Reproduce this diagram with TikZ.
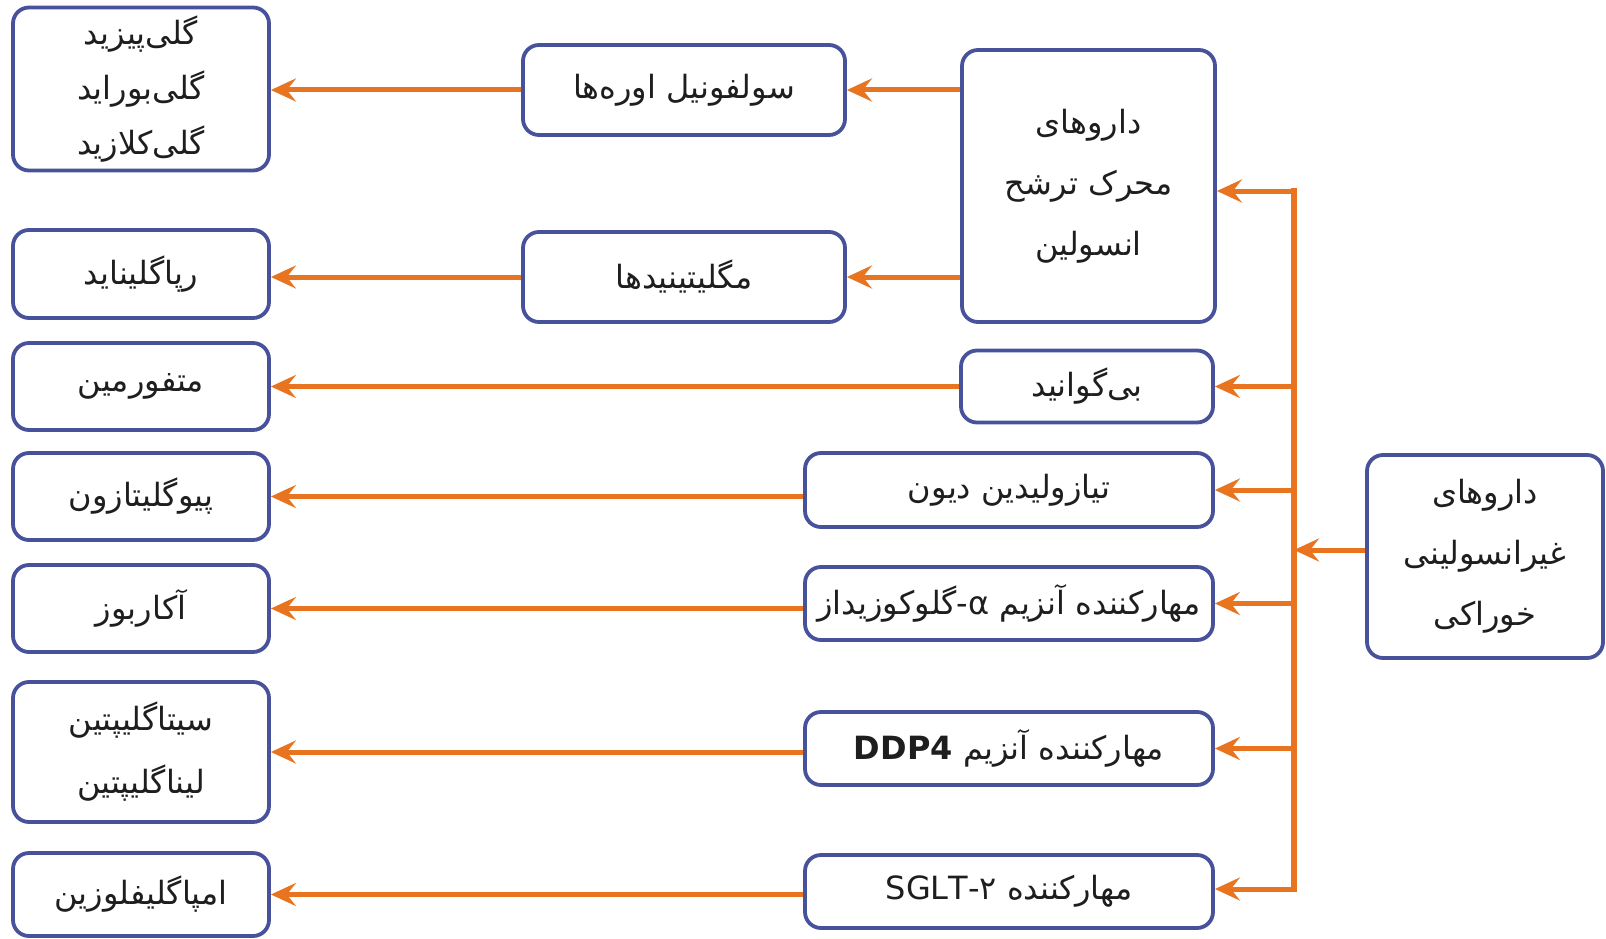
\documentclass[tikz,border=0pt]{standalone}
\usepackage{fontspec}
\setmainfont{DejaVu Sans}
\newfontfamily\arabicfont[Script=Arabic]{DejaVu Sans}
\TeXXeTstate=1
\usetikzlibrary{arrows.meta}
\definecolor{arrorange}{RGB}{232,116,32}
\definecolor{boxblue}{RGB}{72,82,155}
\definecolor{txt}{RGB}{30,30,30}
\newcommand{\fa}[1]{{\arabicfont\beginR #1\endR}}
\begin{document}
\begin{tikzpicture}[x=1pt,y=-1pt,
  box/.style={draw=boxblue, line width=3.8pt, rounded corners=16pt, fill=white,
    inner sep=0pt, align=center, text=txt, font=\fontsize{32}{55}\selectfont},
  arr/.style={draw=arrorange, line width=5pt,
    -{Stealth[length=25pt,width=23pt,inset=9pt]}},
  vline/.style={draw=arrorange, line width=6.5pt, line cap=rect},
]
\useasboundingbox (0,0) rectangle (1606,939);

% left column
\node[box, minimum width=256pt, minimum height=163pt] (L1) at (141,89)
  {\fa{گلی‌پیزید}\\\fa{گلی‌بوراید}\\\fa{گلی‌کلازید}};
\node[box, minimum width=256pt, minimum height=88pt] (L2) at (141,274) {\fa{رپاگلیناید}};
\node[box, minimum width=256pt, minimum height=87pt] (L3) at (141,386.5) {\fa{متفورمین}};
\node[box, minimum width=256pt, minimum height=87pt] (L4) at (141,496.5) {\fa{پیوگلیتازون}};
\node[box, minimum width=256pt, minimum height=87pt] (L5) at (141,608.5) {\fa{آکاربوز}};
\node[box, minimum width=256pt, minimum height=140pt, font=\fontsize{32}{63}\selectfont] (L6) at (141,752)
  {\fa{سیتاگلیپتین}\\\fa{لیناگلیپتین}};
\node[box, minimum width=256pt, minimum height=83pt] (L7) at (141,894.5) {\fa{امپاگلیفلوزین}};

% middle column
\node[box, minimum width=322pt, minimum height=90pt] (M1) at (684,90) {\fa{سولفونیل اوره‌ها}};
\node[box, minimum width=322pt, minimum height=90pt] (M2) at (684,277) {\fa{مگلیتینیدها}};

% right-middle column
\node[box, minimum width=253pt, minimum height=272pt, font=\fontsize{32}{61}\selectfont] (R1) at (1088.5,186)
  {\fa{داروهای}\\\fa{محرک ترشح}\\\fa{انسولین}};
\node[box, minimum width=252pt, minimum height=72pt] (R2) at (1087,386.5) {\fa{بی‌گوانید}};
\node[box, minimum width=408pt, minimum height=74pt] (R3) at (1009,490) {\fa{تیازولیدین دیون}};
\node[box, minimum width=408pt, minimum height=73pt] (R4) at (1009,603.5)
  {\fa{مهارکننده آنزیم \hbox{α}\hbox{-}\hbox{گلوکوزیداز}}};
\node[box, minimum width=408pt, minimum height=73pt] (R5) at (1009,748.5)
  {\fa{مهارکننده آنزیم \beginL\textbf{DDP4}\endL}};
\node[box, minimum width=408pt, minimum height=73pt] (R6) at (1009,891.5)
  {\fa{مهارکننده \beginL SGLT-۲\endL}};

% far right
\node[box, minimum width=236pt, minimum height=203pt, font=\fontsize{32}{61}\selectfont] (F) at (1485,556.5)
  {\fa{داروهای}\\\fa{غیرانسولینی}\\\fa{خوراکی}};

% trunk
\coordinate (vtop) at (1294,191);
\coordinate (vbot) at (1294,889);
\coordinate (vjoin) at (1294,550);
\draw[vline] (vtop) -- (vbot);
\draw[arr] (F.west |- vjoin) -- (vjoin);

\draw[arr] (vtop) -- (vtop -| R1.east);
\draw[arr] (R2.east -| vtop) -- (R2.east);
\draw[arr] (R3.east -| vtop) -- (R3.east);
\draw[arr] (R4.east -| vtop) -- (R4.east);
\draw[arr] (R5.east -| vtop) -- (R5.east);
\draw[arr] (vbot) -- (vbot -| R6.east);

% to the left
\draw[arr] (R1.west |- M1.east) -- (M1.east);
\draw[arr] (R1.west |- M2.east) -- (M2.east);
\draw[arr] (M1.west) -- (M1.west -| L1.east);
\draw[arr] (M2.west) -- (M2.west -| L2.east);
\draw[arr] (R2.west |- L3.east) -- (L3.east);
\draw[arr] (R3.west |- L4.east) -- (L4.east);
\draw[arr] (R4.west |- L5.east) -- (L5.east);
\draw[arr] (R5.west |- L6.east) -- (L6.east);
\draw[arr] (R6.west |- L7.east) -- (L7.east);
\end{tikzpicture}
\end{document}
